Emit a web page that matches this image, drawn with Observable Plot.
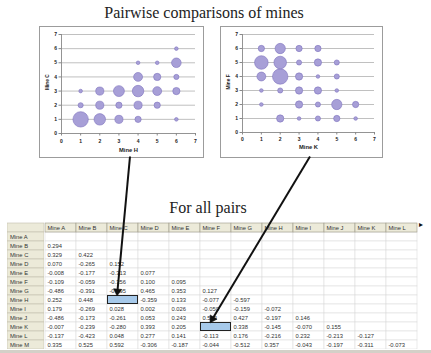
<!DOCTYPE html>
<html><head><meta charset="utf-8">
<script src="https://cdn.jsdelivr.net/npm/d3@7"></script>
<script src="https://cdn.jsdelivr.net/npm/@observablehq/plot@0.6"></script>
<style>
html,body{margin:0;padding:0;background:#fff;}
#root{position:relative;width:431px;height:353px;overflow:hidden;background:#fff;}
.abs{position:absolute;}
.ttl{position:absolute;font-family:"Liberation Serif","Times New Roman",serif;font-size:16px;line-height:16px;color:#222;white-space:nowrap;transform:translateX(-50%);}
</style></head><body><div id="root"></div>
<script>
// ---------- data ----------
// Bubble chart 1: Mine H (x) vs Mine C (y), bubble = count
const hcX = [1,2,3,4,6, 1,2,3,4,5, 1,2,3,4,5,6, 4,5,6, 4,5,6, 6];
const hcY = [1,1,1,1,1, 2,2,2,2,2, 3,3,3,3,3,3, 4,4,4, 5,5,5, 6];
const hcN = [18,10,5,3,1, 2,5,3,5,3, 1,5,9,10,6,4, 6,4,2, 1,1,7, 1];

// Bubble chart 2: Mine K (x) vs Mine F (y)
const kfX = [1,2,3,4, 1,2,3,4,5, 1,2,3,4,5, 1,2,3,4,5, 1,3,4,5,6, 2,3,4,5,6];
const kfY = [6,6,6,6, 5,5,5,5,5, 4,4,4,4,4, 3,3,3,3,3, 2,2,2,2,2, 1,1,1,1,1];
const kfN = [3,8,3,3, 14,12,2,4,2, 6,18,4,1,2, 1,2,4,4,1, 1,4,2,8,3, 4,1,2,3,1];

const axisTicks = [0,1,2,3,4,5,6,7];

const mines = ["Mine A","Mine B","Mine C","Mine D","Mine E","Mine F","Mine G","Mine H","Mine I","Mine J","Mine K","Mine L","Mine M"];
const tableCols = mines.slice(0, 12);
// lower triangle, rows Mine B .. Mine M
const corrRows = [
  [0.294],
  [0.329, 0.422],
  [0.070, -0.265, 0.152],
  [-0.008, -0.177, -0.313, 0.077],
  [-0.109, -0.059, -0.356, 0.100, 0.095],
  [-0.486, -0.391, -0.195, 0.465, 0.353, 0.127],
  [0.252, 0.448, null, -0.359, 0.133, -0.077, -0.597],
  [0.179, -0.269, 0.028, 0.002, 0.026, -0.050, -0.159, -0.072],
  [-0.486, -0.173, -0.261, 0.053, 0.243, 0.522, 0.427, -0.197, 0.146],
  [-0.007, -0.239, -0.280, 0.393, 0.205, null, 0.338, -0.145, -0.070, 0.155],
  [-0.137, -0.423, 0.048, 0.277, 0.141, -0.113, 0.176, -0.216, 0.232, -0.213, -0.127],
  [0.335, 0.525, 0.592, -0.306, -0.187, -0.044, -0.512, 0.357, -0.043, -0.197, -0.311, -0.073]
];
const highlighted = [["Mine H", "Mine C"], ["Mine K", "Mine F"]];

const titleMain = "Pairwise comparisons of mines";
const titleTable = "For all pairs";

// ---------- layout ----------
const root = document.getElementById("root");
const plotFont = '"Liberation Sans", Arial, sans-serif';
const boxL = {left: 40, top: 27, w: 163, h: 130, ml: 21, mr: 8, mt: 7, mb: 24, tp: 3, xdy: 18.5};
const boxR = {left: 221, top: 27, w: 161, h: 130, ml: 21, mr: 8, mt: 7, mb: 25, tp: 2, xdy: 16.5};
const tbl = {left: 44, top: 222, w: 374, h: 127, hdrLeft: 7, hdrW: 37};

function place(node, left, top, w, h, extra) {
  const d = document.createElement("div");
  d.className = "abs";
  d.style.left = left + "px"; d.style.top = top + "px";
  if (w != null) d.style.width = w + "px";
  if (h != null) d.style.height = h + "px";
  if (extra) Object.assign(d.style, extra);
  d.appendChild(node);
  root.appendChild(d);
  return d;
}
function title(text, cx, top) {
  const d = document.createElement("div");
  d.className = "ttl"; d.textContent = text;
  d.style.left = cx + "px"; d.style.top = top + "px";
  root.appendChild(d);
}

function bubbleChart(xs, ys, ns, xLabel, yLabel, b) {
  const data = xs.map((x, i) => ({x, y: ys[i], n: ns[i]}));
  return Plot.plot({
    width: b.w, height: b.h,
    marginLeft: b.ml, marginRight: b.mr, marginTop: b.mt, marginBottom: b.mb,
    style: {fontFamily: plotFont, fontSize: "5px", fontWeight: "bold", color: "#222", background: "#fff", overflow: "visible", outline: "1px solid #9c9c9c"},
    x: {domain: [0, 7]},
    y: {domain: [0, 7]},
    r: {type: "sqrt", domain: [0, 18], range: [0, 7.7]},
    marks: [
      Plot.ruleY(axisTicks.slice(1), {stroke: "#b0b0b0", strokeWidth: 0.8}),
      Plot.ruleY([0], {stroke: "#888", strokeWidth: 0.9}),
      Plot.ruleX([0], {stroke: "#888", strokeWidth: 0.9}),
      Plot.axisX(axisTicks, {tickSize: 2.5, tickPadding: b.tp, stroke: "#888", fill: "#222", label: null}),
      Plot.axisY(axisTicks, {tickSize: 2.5, tickPadding: 2, stroke: "#888", fill: "#222", label: null}),
      Plot.text([xLabel], {text: d => d, frameAnchor: "bottom", dy: b.xdy, fontSize: 5.8, fill: "#222"}),
      Plot.text([yLabel], {text: d => d, frameAnchor: "left", rotate: -90, dx: 6.5 - b.ml, dy: 6, fontSize: 4.8, fill: "#222"}),
      Plot.dot(data, {x: "x", y: "y", r: "n", fill: "#a79fd7", stroke: "#7d72bd", strokeWidth: 0.6})
    ]
  });
}

title(titleMain, 204, 4.5);
title(titleTable, 208, 199.6);

const chartL = bubbleChart(hcX, hcY, hcN, "Mine H", "Mine C", boxL);
const chartR = bubbleChart(kfX, kfY, kfN, "Mine K", "Mine F", boxR);
place(chartL, boxL.left, boxL.top, boxL.w, boxL.h);
place(chartR, boxR.left, boxR.top, boxR.w, boxR.h);

// ---------- table ----------
const headerKey = " ";
const yDomain = [headerKey, ...mines];
const cellData = [];
mines.forEach(row => tableCols.forEach(col => cellData.push({row, col})));
const valueData = [];
corrRows.forEach((vals, i) => vals.forEach((v, j) => {
  if (v != null) valueData.push({row: mines[i + 1], col: tableCols[j], v});
}));
const hiData = highlighted.map(([row, col]) => ({row, col}));
const beige = "#ecead9";
const txtDx = -(tbl.w / tableCols.length) / 2 + 2;
const tableStyle = {fontFamily: plotFont, fontSize: "5.8px", color: "#333", background: "#fff"};

const rowHdr = Plot.plot({
  width: tbl.hdrW, height: tbl.h, margin: 0,
  style: tableStyle,
  y: {type: "band", domain: yDomain, padding: 0, axis: null},
  marks: [
    Plot.cell(yDomain, {y: d => d, fill: beige, stroke: "#c2bead", strokeWidth: 0.6}),
    Plot.text(mines, {y: d => d, text: d => d, frameAnchor: "left", textAnchor: "start", dx: 2.5, fill: "#333"})
  ]
});

const table = Plot.plot({
  width: tbl.w, height: tbl.h, margin: 0,
  style: tableStyle,
  x: {type: "band", domain: tableCols, padding: 0, axis: null},
  y: {type: "band", domain: yDomain, padding: 0, axis: null},
  marks: [
    Plot.cell(cellData, {x: "col", y: "row", fill: "#fff", stroke: "#dcdcdc", strokeWidth: 0.6}),
    Plot.cell(tableCols, {x: d => d, y: () => headerKey, fill: beige, stroke: "#9c9888", strokeWidth: 0.6}),
    Plot.cell(hiData, {x: "col", y: "row", fill: "#a6c9ea", stroke: "#222", strokeWidth: 1, inset: 0.5}),
    Plot.text(tableCols, {x: d => d, y: () => headerKey, text: d => d, textAnchor: "start", dx: txtDx, fill: "#333"}),
    Plot.text(valueData, {x: "col", y: "row", text: d => d.v.toFixed(3), textAnchor: "start", dx: txtDx, fill: "#333"})
  ]
});
place(rowHdr, tbl.hdrLeft, tbl.top, tbl.hdrW, tbl.h);
place(table, tbl.left, tbl.top, tbl.w, tbl.h);

// scroll marker and bottom bar
const mk = document.createElement("span");
mk.textContent = "▸";
place(mk, tbl.left + tbl.w + 1, tbl.top - 2, null, null, {fontSize: "8px", fontFamily: "DejaVu Sans", color: "#111"});
const bar = document.createElement("div");
place(bar, 0, tbl.top + tbl.h + 1, 431, 4, {background: "#d4d0c8"});

// ---------- arrows from each chart to its cell ----------
function cellTip(row, col) {
  const sx = table.scale("x"), sy = table.scale("y");
  return {x: tbl.left + sx.apply(col) + sx.bandwidth / 2 - 6, y: tbl.top + sy.apply(row) + 0.5};
}
function chartStart(chart, b) {
  const sx = chart.scale("x");
  const [d0, d1] = sx.domain;
  return {x: b.left + sx.apply((d0 + d1) / 2) + 1.5, y: b.top + b.h - 1};
}
const headR = 3;
const arrowData = [[chartL, boxL], [chartR, boxR]].map(([c, b], i) => {
  const s = chartStart(c, b), t = cellTip(hiData[i].row, hiData[i].col);
  const dx = t.x - s.x, dy = t.y - s.y, len = Math.hypot(dx, dy);
  const back = headR * 1.555;
  const hx = t.x - dx / len * back, hy = t.y - dy / len * back;
  return {x1: s.x, y1: s.y, x2: hx, y2: hy, rot: Math.atan2(dx, -dy) * 180 / Math.PI};
});
const overlay = Plot.plot({
  width: 431, height: 353, margin: 0,
  x: {type: "identity", axis: null}, y: {type: "identity", axis: null},
  style: {background: "transparent"},
  marks: [
    Plot.link(arrowData, {x1: "x1", y1: "y1", x2: "x2", y2: "y2", stroke: "#111", strokeWidth: 2}),
    Plot.dot(arrowData, {x: "x2", y: "y2", symbol: "triangle", r: headR, rotate: "rot", fill: "#111", stroke: "#111", strokeWidth: 0.5})
  ]
});
place(overlay, 0, 0, 431, 353, {pointerEvents: "none"});
</script></body></html>
